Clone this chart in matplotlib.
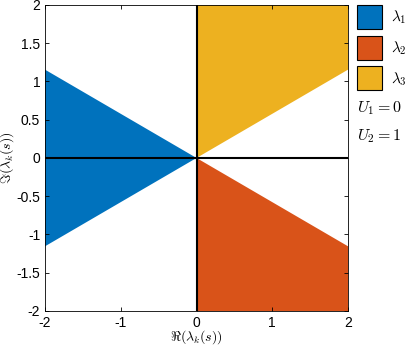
import numpy as np
import matplotlib.pyplot as plt
from matplotlib.patches import Wedge, Patch

plt.rcParams['mathtext.fontset'] = 'cm'
plt.rcParams['font.family'] = 'Liberation Sans'

# sector bounds (degrees) for each eigenvalue region
labels = [r'$\lambda_1$', r'$\lambda_2$', r'$\lambda_3$']
start_deg = [150, 270, 30]
end_deg = [210, 330, 90]
colors = ['#0072BD', '#D95319', '#EDB120']
xticks = [-2, -1, 0, 1, 2]
yticks = [-2, -1.5, -1, -0.5, 0, 0.5, 1, 1.5, 2]
notes = [r'$U_1 = 0$', r'$U_2 = 1$']

fig = plt.figure(figsize=(4.09, 3.45), dpi=100)
ax = fig.add_axes([0.110, 0.0986, 0.741, 0.887])

for a0, a1, c in zip(start_deg, end_deg, colors):
    ax.add_patch(Wedge((0, 0), 10, a0, a1, color=c, lw=0))

ax.axhline(0, color='k', lw=1.5)
ax.axvline(0, color='k', lw=1.5)

ax.set_xlim(-2, 2)
ax.set_ylim(-2, 2)
ax.set_xticks(xticks)
ax.set_yticks(yticks)
ax.set_xticklabels([f'{t:g}' for t in xticks])
ax.set_yticklabels([f'{t:g}' for t in yticks])
ax.tick_params(direction='in', top=True, right=True, labelsize=10, length=3, width=0.6)
for s in ax.spines.values():
    s.set_linewidth(0.6)
ax.set_xlabel(r'$\Re(\lambda_k(s))$', fontsize=10, labelpad=-1)
ax.set_ylabel(r'$\Im(\lambda_k(s))$', fontsize=10, labelpad=0)

handles = [Patch(facecolor=c, edgecolor='k', lw=0.8) for c in colors]
fig.legend(handles, labels, loc='upper left', bbox_to_anchor=(357 / 409, 1 - 5 / 345),
           frameon=False, handlelength=1.64, handleheight=2.04, handletextpad=0.6,
           labelspacing=0.43, borderpad=0, borderaxespad=0, fontsize=11)

for i, t in enumerate(notes):
    fig.text(357 / 409, 1 - (108 + 28 * i) / 345, t, fontsize=11.5, va='center')

fig.savefig('out.png', dpi=100)
